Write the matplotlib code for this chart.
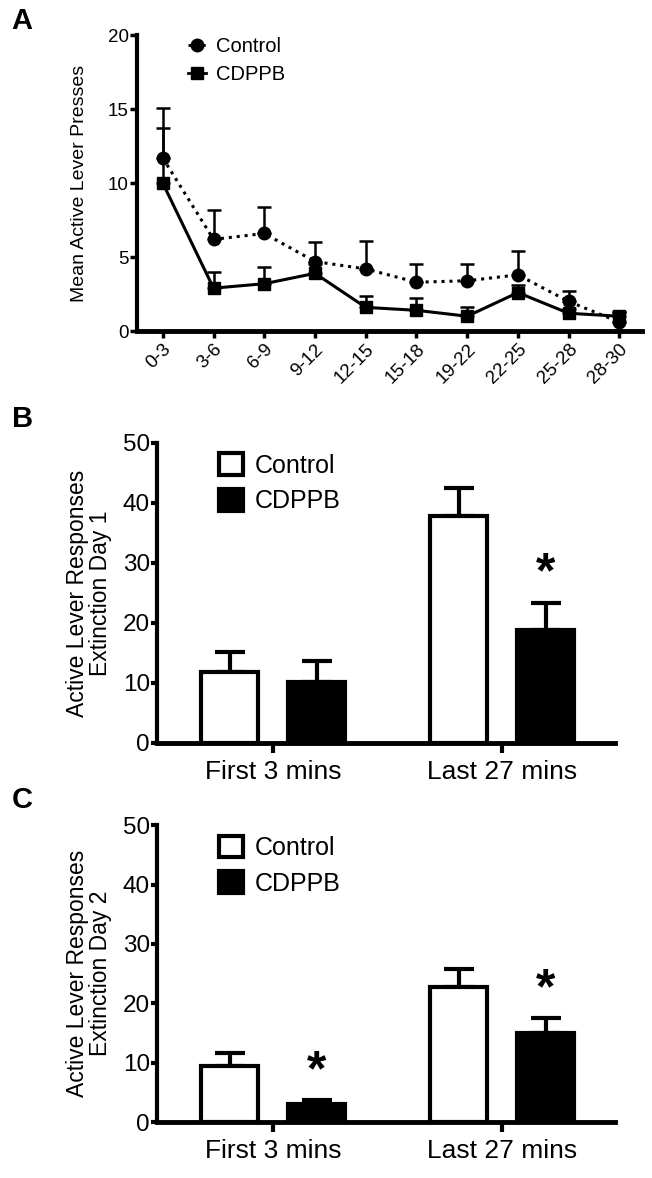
import matplotlib.pyplot as plt
import numpy as np
from matplotlib.patches import Patch
from matplotlib.lines import Line2D

plt.rcParams['font.family'] = ['Liberation Sans', 'DejaVu Sans']

# panel A data
bins = ['0-3', '3-6', '6-9', '9-12', '12-15', '15-18', '19-22', '22-25', '25-28', '28-30']
ctrl_mean = [11.7, 6.2, 6.6, 4.7, 4.2, 3.3, 3.4, 3.8, 2.0, 0.6]
ctrl_sem = [3.4, 2.0, 1.8, 1.3, 1.9, 1.2, 1.1, 1.6, 0.7, 0.7]
cdppb_mean = [10.0, 2.9, 3.2, 3.9, 1.6, 1.4, 1.0, 2.6, 1.2, 1.0]
cdppb_sem = [3.7, 1.1, 1.1, 0.6, 0.8, 0.8, 0.6, 0.5, 0.3, 0.3]

# panels B and C data
groups = ['First 3 mins', 'Last 27 mins']
day1_ctrl = [11.8, 37.9]
day1_ctrl_sem = [3.3, 4.6]
day1_cdppb = [10.1, 18.9]
day1_cdppb_sem = [3.6, 4.5]
day1_star = [False, True]

day2_ctrl = [9.5, 22.8]
day2_ctrl_sem = [2.2, 3.0]
day2_cdppb = [3.0, 15.0]
day2_cdppb_sem = [0.7, 2.5]
day2_star = [True, True]

fig = plt.figure(figsize=(6.52, 11.78), dpi=100)

# ---------------- panel A
ax = fig.add_axes([0.210, 0.719, 0.775, 0.251])
x = np.arange(len(bins))
ax.errorbar(x, ctrl_mean, yerr=[np.zeros(len(x)), ctrl_sem], fmt='none',
            ecolor='black', elinewidth=1.8, capsize=5, capthick=1.8, zorder=2)
ax.errorbar(x, cdppb_mean, yerr=[np.zeros(len(x)), cdppb_sem], fmt='none',
            ecolor='black', elinewidth=1.8, capsize=5, capthick=1.8, zorder=2)
ax.plot(x, ctrl_mean, color='black', linestyle=(0, (1, 1.6)), linewidth=2.2,
        marker='o', markersize=9, zorder=3)
ax.plot(x, cdppb_mean, color='black', linestyle='-', linewidth=2.2,
        marker='s', markersize=9, zorder=4)
ax.set_xlim(-0.51, 9.45)
ax.set_ylim(0, 20)
ax.set_yticks([0, 5, 10, 15, 20])
ax.set_xticks(x)
ax.set_xticklabels(bins, rotation=45, ha='right', rotation_mode='anchor')
ax.tick_params(axis='both', labelsize=13.5, width=2.5, length=5, direction='out', pad=2)
ax.tick_params(axis='y', pad=1)
ax.spines['top'].set_visible(False)
ax.spines['right'].set_visible(False)
ax.spines['left'].set_linewidth(3)
ax.spines['bottom'].set_linewidth(3.5)
ax.set_ylabel('Mean Active Lever Presses', fontsize=14, labelpad=14)
handles = [Line2D([], [], color='black', linestyle=(0, (1, 1.6)), linewidth=2, marker='o', markersize=9),
           Line2D([], [], color='black', linestyle='-', linewidth=2, marker='s', markersize=9)]
ax.legend(handles, ['Control', 'CDPPB'], loc='upper left', bbox_to_anchor=(0.065, 1.055),
          frameon=False, fontsize=14.5, handlelength=0.9, handletextpad=0.5, labelspacing=0.45)
fig.text(0.018, 0.994, 'A', fontsize=21, fontweight='bold', va='top')


def bar_panel(rect, ctrl, ctrl_sem, cdppb, cdppb_sem, stars, label, ylabel, lx, ly):
    ax = fig.add_axes(rect)
    g = np.arange(len(groups))
    off = 0.19
    w = 0.25
    ax.bar(g - off, ctrl, w, color='white', edgecolor='black', linewidth=3, zorder=3)
    ax.bar(g + off, cdppb, w, color='black', edgecolor='black', linewidth=3, zorder=3)
    ax.errorbar(g - off, ctrl, yerr=[np.zeros(2), ctrl_sem], fmt='none', ecolor='black',
                elinewidth=3, capsize=11, capthick=3, zorder=2)
    ax.errorbar(g + off, cdppb, yerr=[np.zeros(2), cdppb_sem], fmt='none', ecolor='black',
                elinewidth=3, capsize=11, capthick=3, zorder=2)
    for i in range(len(groups)):
        if stars[i]:
            ax.text(g[i] + off, cdppb[i] + cdppb_sem[i] + 0.8, '*', ha='center', va='bottom',
                    fontsize=36, fontweight='bold')
    ax.set_xlim(-0.507, 1.493)
    ax.set_ylim(0, 50)
    ax.set_yticks([0, 10, 20, 30, 40, 50])
    ax.set_xticks(g)
    ax.set_xticklabels(groups)
    ax.tick_params(axis='both', labelsize=17.5, width=3, length=6, direction='out', pad=2)
    ax.tick_params(axis='x', labelsize=19, length=7, pad=5)
    ax.tick_params(axis='y', length=4, pad=1)
    ax.spines['top'].set_visible(False)
    ax.spines['right'].set_visible(False)
    ax.spines['left'].set_linewidth(3)
    ax.spines['bottom'].set_linewidth(3.5)
    ax.set_ylabel(ylabel, fontsize=16.5, labelpad=8, linespacing=1.0)
    handles = [Patch(facecolor='white', edgecolor='black', linewidth=3),
               Patch(facecolor='black', edgecolor='black', linewidth=3)]
    ax.legend(handles, ['Control', 'CDPPB'], loc='upper left', bbox_to_anchor=(0.135, 0.965),
              frameon=False, fontsize=18, handlelength=0.95, handleheight=0.95, borderpad=0,
              borderaxespad=0, handletextpad=0.5, labelspacing=0.45)
    fig.text(lx, ly, label, fontsize=21, fontweight='bold', va='top')
    return ax


bar_panel([0.2408, 0.3693, 0.7025, 0.2547], day1_ctrl, day1_ctrl_sem, day1_cdppb, day1_cdppb_sem,
          day1_star, 'B', 'Active Lever Responses\nExtinction Day 1', 0.018, 0.656)
bar_panel([0.2408, 0.0475, 0.7025, 0.252], day2_ctrl, day2_ctrl_sem, day2_cdppb, day2_cdppb_sem,
          day2_star, 'C', 'Active Lever Responses\nExtinction Day 2', 0.018, 0.333)

fig.savefig('out.png', dpi=100)
